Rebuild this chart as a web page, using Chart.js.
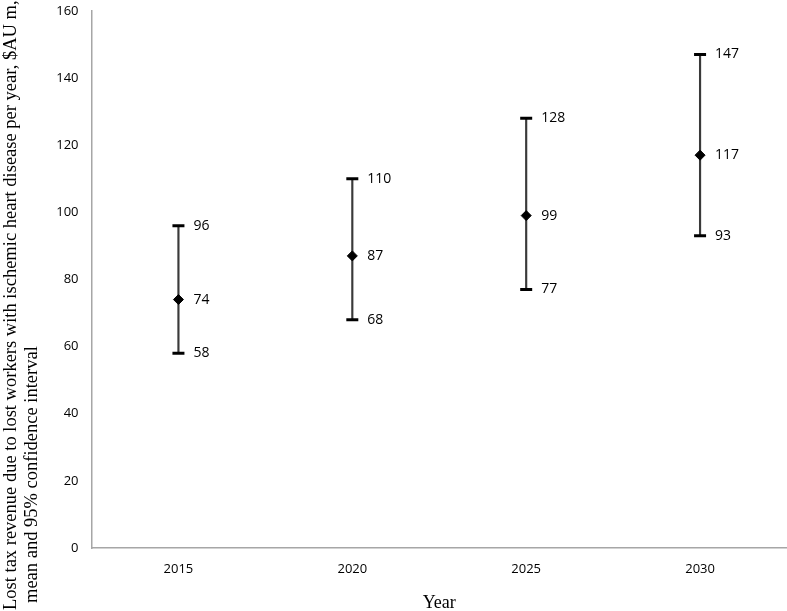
<!DOCTYPE html>
<html>
<head>
<meta charset="utf-8">
<script src="https://cdn.jsdelivr.net/npm/chart.js@4"></script>
<style>
  html, body { margin: 0; padding: 0; background: #fff; }
  #wrap { width: 787px; height: 611px; }
</style>
</head>
<body>
<div id="wrap"><canvas id="ItdChart"></canvas></div>
<script>
var years = ['2015', '2020', '2025', '2030'];
var means = [74, 87, 99, 117];
var lows = [58, 68, 77, 93];
var highs = [96, 110, 128, 147];
var yTitleLines = [
  'Lost tax revenue due to lost workers with ischemic heart disease per year, $AU m,',
  'mean and 95% confidence interval'
];

var ranges = years.map(function(y, i) {
  return [lows[i], highs[i]];
});

// y axis title, bottom aligned like the original
var yTitlePlugin = {
  id: 'yTitle',
  afterDraw: function(chart) {
    var c = chart.ctx;
    c.save();
    c.fillStyle = '#000';
    c.font = '18.5px "Liberation Serif", "Times New Roman", serif';
    c.textAlign = 'left';
    c.textBaseline = 'middle';
    c.translate(0, 610);
    c.rotate(-Math.PI / 2);
    c.fillText(yTitleLines[0], 0, 11);
    c.fillText(yTitleLines[1], 7, 32);
    c.restore();
  }
};

// value labels to the right of means and caps
var valueLabels = {
  id: 'valueLabels',
  afterDatasetsDraw: function(chart) {
    var c = chart.ctx;
    c.save();
    c.fillStyle = '#000';
    c.font = '14px "Open Sans", sans-serif';
    c.textAlign = 'left';
    c.textBaseline = 'middle';
    [1, 2, 3].forEach(function(di) {
      var ds = chart.data.datasets[di];
      chart.getDatasetMeta(di).data.forEach(function(pt, i) {
        c.fillText(String(ds.data[i]), pt.x + 15, pt.y);
      });
    });
    c.restore();
  }
};

var ctx = document.getElementById('ItdChart').getContext('2d');
var config = {
  type: 'bar',
  data: {
    labels: years,
    datasets: [{
      type: 'bar',
      label: 'CI',
      data: ranges,
      backgroundColor: '#3a3a3a',
      barThickness: 1.5,
      order: 4
    }, {
      type: 'line',
      label: 'low',
      data: lows,
      showLine: false,
      pointStyle: 'line',
      pointRadius: 6,
      pointBorderWidth: 3,
      borderColor: '#000',
      order: 2
    }, {
      type: 'line',
      label: 'high',
      data: highs,
      showLine: false,
      pointStyle: 'line',
      pointRadius: 6,
      pointBorderWidth: 3,
      borderColor: '#000',
      order: 2
    }, {
      type: 'line',
      label: 'mean',
      data: means,
      showLine: false,
      pointStyle: 'rectRot',
      pointRadius: 5,
      pointBackgroundColor: '#000',
      pointBorderColor: '#000',
      pointBorderWidth: 1,
      order: 1
    }]
  },
  options: {
    responsive: true,
    maintainAspectRatio: false,
    animation: false,
    layout: { autoPadding: false, padding: 0 },
    plugins: {
      legend: { display: false },
      tooltip: { enabled: false }
    },
    scales: {
      x: {
        grid: { display: false, drawTicks: false },
        border: { color: '#a6a6a6', width: 1.5 },
        ticks: {
          color: '#000',
          padding: 13,
          font: { family: '"Open Sans", sans-serif', size: 13 }
        },
        title: {
          display: true,
          text: 'Year',
          color: '#000',
          padding: { top: 24, bottom: -3 },
          font: { family: '"Liberation Serif", serif', size: 18 }
        },
        afterFit: function(s) { s.height = 63; }
      },
      y: {
        min: 0,
        max: 160,
        grid: { display: false, drawTicks: true, tickLength: 10 },
        border: { color: '#a6a6a6', width: 1.5 },
        ticks: {
          stepSize: 20,
          color: '#000',
          padding: 3,
          font: { family: '"Open Sans", sans-serif', size: 13 }
        },
        afterFit: function(s) { s.width = 91.5; }
      }
    }
  },
  plugins: [yTitlePlugin, valueLabels]
};

var chart = new Chart(ctx, config);
</script>
</body>
</html>
